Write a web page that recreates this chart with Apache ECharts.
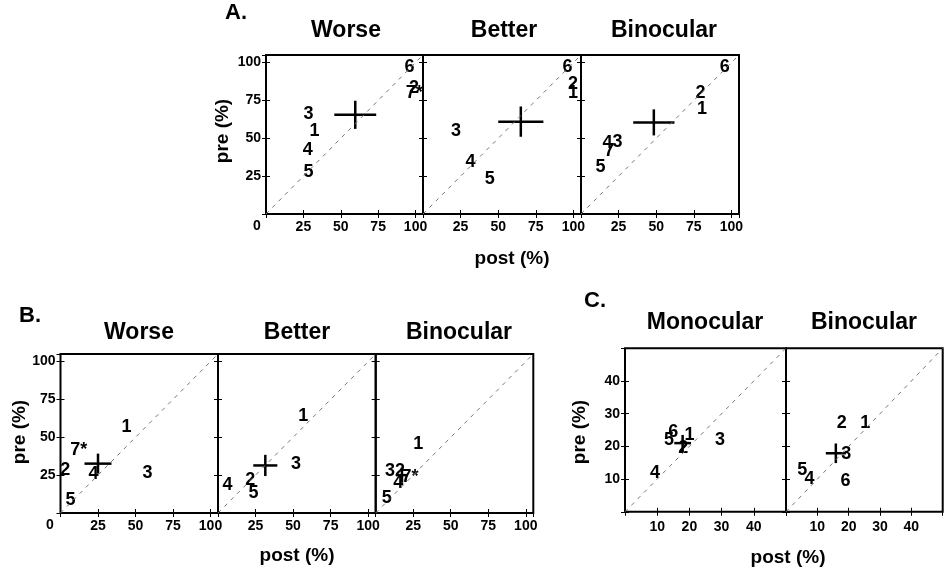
<!DOCTYPE html>
<html>
<head>
<meta charset="utf-8">
<script src="https://cdn.jsdelivr.net/npm/echarts@6/dist/echarts.min.js"></script>
<style>
  html, body { margin: 0; padding: 0; background: #fff; }
  #main { width: 950px; height: 570px; }
</style>
</head>
<body>
<div id="main"></div>
<script>
  // A. Worse / Better / Binocular (post vs pre, %)
  var aWorseId = ['1', '2', '3', '4', '5', '6', '7*'];
  var aWorsePost = [32.5, 99, 28.5, 28, 28.5, 96, 99.2];
  var aWorsePre = [54.6, 83, 66, 42, 27.6, 97, 80];
  var aWorseMean = [59.7, 65.5], aWorseErr = [14, 9.3];

  var aBetterId = ['1', '2', '3', '4', '5', '6'];
  var aBetterPost = [99.7, 99.7, 21.9, 31.6, 44.4, 96];
  var aBetterPre = [80, 86, 54.6, 34, 23, 97];
  var aBetterMean = [65, 61], aBetterErr = [15, 10];

  var aBinoId = ['1', '2', '3', '4', '5', '6', '7'];
  var aBinoPost = [80.4, 79.4, 24.2, 17.6, 12.9, 95.5, 18.8];
  var aBinoPre = [69, 80, 47.5, 46.8, 30.7, 97, 41.3];
  var aBinoMean = [48.4, 60.5], aBinoErr = [13.7, 8.6];

  // B.
  var bWorseId = ['1', '2', '3', '4', '5', '7*'];
  var bWorsePost = [44, 3.2, 58, 22, 6.7, 12.2];
  var bWorsePre = [57, 28.3, 26.6, 25.5, 8.3, 41.6];
  var bWorseMean = [25, 32.6], bWorseErr = [9, 6.6];

  var bBetterId = ['1', '2', '3', '4', '5'];
  var bBetterPost = [56.7, 21.5, 52, 6.4, 23.7];
  var bBetterPre = [64, 21.7, 32.6, 18.4, 12.9];
  var bBetterMean = [31.5, 31.4], bBetterErr = [8, 7];

  var bBinoId = ['1', '2', '3', '4', '5', '7*'];
  var bBinoPost = [28.4, 16.2, 9.5, 15, 7.3, 22.8];
  var bBinoPre = [45.4, 27.7, 27.7, 20, 10, 24];
  var bBinoMean = [17.5, 25], bBinoErr = [4, 5];

  // C. Monocular / Binocular
  var cMonoId = ['1', '2', '3', '4', '5', '6'];
  var cMonoPost = [20, 18.1, 29.5, 9.3, 13.7, 15];
  var cMonoPre = [23.5, 19.4, 22, 12, 22, 24.5];
  var cMonoMean = [17.9, 21], cMonoErr = [2.6, 2.5];

  var cBinoId = ['1', '2', '3', '4', '5', '6'];
  var cBinoPost = [25.3, 17.8, 19.2, 7.5, 5.2, 19];
  var cBinoPre = [27, 27, 17.7, 10, 12.8, 9.5];
  var cBinoMean = [15.9, 17.9], cBinoErr = [3.2, 3];

  var abTicks = [25, 50, 75, 100];
  var cTicks = [10, 20, 30, 40];

  var FONT = '"Liberation Sans", Arial, sans-serif';

  // layout of the 8 boxes
  var panels = [
    { rect: [266, 55, 157, 159], max: 105, step: 25, ticks: abTicks, ylab: true, ids: aWorseId, post: aWorsePost, pre: aWorsePre, mean: aWorseMean, err: aWorseErr, margin: 6 },
    { rect: [423, 55, 158, 159], max: 105, step: 25, ticks: abTicks, ylab: false, ids: aBetterId, post: aBetterPost, pre: aBetterPre, mean: aBetterMean, err: aBetterErr, margin: 6 },
    { rect: [581, 55, 158, 159], max: 105, step: 25, ticks: abTicks, ylab: false, ids: aBinoId, post: aBinoPost, pre: aBinoPre, mean: aBinoMean, err: aBinoErr, margin: 6 },
    { rect: [60.5, 354, 157.5, 159], max: 105, step: 25, ticks: abTicks, ylab: true, ids: bWorseId, post: bWorsePost, pre: bWorsePre, mean: bWorseMean, err: bWorseErr, margin: 6 },
    { rect: [218, 354, 157.7, 159], max: 105, step: 25, ticks: abTicks, ylab: false, ids: bBetterId, post: bBetterPost, pre: bBetterPre, mean: bBetterMean, err: bBetterErr, margin: 6 },
    { rect: [375.7, 354, 157.6, 159], max: 105, step: 25, ticks: abTicks, ylab: false, ids: bBinoId, post: bBinoPost, pre: bBinoPre, mean: bBinoMean, err: bBinoErr, margin: 6 },
    { rect: [625, 348.3, 161, 163.5], max: 50, step: 10, ticks: cTicks, ylab: true, ids: cMonoId, post: cMonoPost, pre: cMonoPre, mean: cMonoMean, err: cMonoErr, margin: 8 },
    { rect: [786, 348.3, 156.7, 163.5], max: 50, step: 10, ticks: cTicks, ylab: false, ids: cBinoId, post: cBinoPost, pre: cBinoPre, mean: cBinoMean, err: cBinoErr, margin: 8 }
  ];

  function renderCross(params, api) {
    var x = api.value(0), y = api.value(1), ex = api.value(2), ey = api.value(3);
    var l = api.coord([x - ex, y]), r = api.coord([x + ex, y]);
    var b = api.coord([x, y - ey]), t = api.coord([x, y + ey]);
    var st = { stroke: '#000', lineWidth: 2.5 };
    return {
      type: 'group',
      children: [
        { type: 'line', shape: { x1: l[0], y1: l[1], x2: r[0], y2: r[1] }, style: st },
        { type: 'line', shape: { x1: b[0], y1: b[1], x2: t[0], y2: t[1] }, style: st }
      ]
    };
  }

  var grids = [], xAxes = [], yAxes = [], series = [];
  panels.forEach(function (p, i) {
    grids.push({
      left: p.rect[0], top: p.rect[1], width: p.rect[2], height: p.rect[3],
      show: true, borderColor: '#000', borderWidth: 2, backgroundColor: 'transparent'
    });
    var tickFmt = function (v) { return p.ticks.indexOf(v) >= 0 ? String(v) : ''; };
    var tick = { show: true, inside: true, length: 4, lineStyle: { color: '#000', width: 1 } };
    var lab = { fontFamily: FONT, fontWeight: 'bold', fontSize: 14, color: '#000' };
    xAxes.push({
      gridIndex: i, type: 'value', position: 'bottom', min: 0, max: p.max, interval: p.step,
      axisLine: { show: false }, axisTick: tick, splitLine: { show: false },
      axisLabel: Object.assign({ formatter: tickFmt, margin: p.margin, showMinLabel: true, showMaxLabel: true }, lab)
    });
    xAxes.push({
      gridIndex: i, type: 'value', position: 'top', min: 0, max: p.max, interval: p.step,
      axisLine: { show: false }, axisTick: tick, splitLine: { show: false }, axisLabel: { show: false }
    });
    yAxes.push({
      gridIndex: i, type: 'value', position: 'left', min: 0, max: p.max, interval: p.step,
      axisLine: { show: false }, axisTick: tick, splitLine: { show: false },
      axisLabel: Object.assign({ show: p.ylab, formatter: tickFmt, margin: 5 }, lab)
    });
    yAxes.push({
      gridIndex: i, type: 'value', position: 'right', min: 0, max: p.max, interval: p.step,
      axisLine: { show: false }, axisTick: tick, splitLine: { show: false }, axisLabel: { show: false }
    });
    var xi = 2 * i, yi = 2 * i;
    series.push({
      type: 'line', xAxisIndex: xi, yAxisIndex: yi, silent: true, symbol: 'none',
      data: [[0, 0], [p.max, p.max]],
      lineStyle: { color: '#777', width: 1, type: [4, 5] }
    });
    series.push({
      type: 'custom', xAxisIndex: xi, yAxisIndex: yi, silent: true,
      renderItem: renderCross,
      data: [[p.mean[0], p.mean[1], p.err[0], p.err[1]]]
    });
    series.push({
      type: 'scatter', xAxisIndex: xi, yAxisIndex: yi, silent: true,
      symbol: 'circle', symbolSize: 0, itemStyle: { color: '#000', opacity: 1 },
      data: p.ids.map(function (id, k) { return [p.post[k], p.pre[k], id]; }),
      label: {
        show: true, position: 'inside', color: '#000', opacity: 1,
        textBorderWidth: 0, textShadowBlur: 0,
        fontFamily: FONT, fontWeight: 'bold', fontSize: 18,
        formatter: function (q) { return q.data[2]; }
      }
    });
  });

  function txt(s, x, y, size, rot) {
    return {
      type: 'text', x: x, y: y, rotation: rot || 0, silent: true,
      style: {
        text: s, fill: '#000', textAlign: 'center', textVerticalAlign: 'middle',
        font: 'bold ' + size + 'px ' + FONT
      }
    };
  }

  var graphics = [
    txt('A.', 236, 13, 22),
    txt('Worse', 346, 31, 23), txt('Better', 504, 31, 23), txt('Binocular', 664, 31, 23),
    txt('pre (%)', 223, 131, 19, Math.PI / 2),
    txt('post (%)', 512, 259, 19),
    txt('0', 257, 226.5, 14),
    txt('B.', 30, 316, 22),
    txt('Worse', 139, 333, 23), txt('Better', 297, 333, 23), txt('Binocular', 459, 333, 23),
    txt('pre (%)', 20, 432, 19, Math.PI / 2),
    txt('post (%)', 297, 556, 19),
    txt('0', 50, 525, 14),
    txt('C.', 595, 301, 22),
    txt('Monocular', 705, 323, 23), txt('Binocular', 864, 323, 23),
    txt('pre (%)', 580, 432, 19, Math.PI / 2),
    txt('post (%)', 788, 558, 19)
  ];

  var myChart = echarts.init(document.getElementById('main'));
  myChart.setOption({
    animation: false,
    backgroundColor: '#fff',
    grid: grids,
    xAxis: xAxes,
    yAxis: yAxes,
    series: series,
    graphic: graphics
  });
</script>
</body>
</html>
